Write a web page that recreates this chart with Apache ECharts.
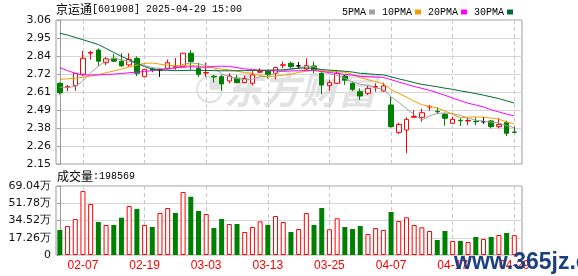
<!DOCTYPE html>
<html><head><meta charset="utf-8">
<script src="https://cdn.jsdelivr.net/npm/echarts@6/dist/echarts.min.js"></script>
<style>html,body{margin:0;padding:0;background:#fff}#c{width:578px;height:276px}</style>
</head><body><div id="c"></div>
<script>
const dates = ['01-27','02-05','02-06','02-07','02-10','02-11','02-12','02-13','02-14','02-17',
'02-18','02-19','02-20','02-21','02-24','02-25','02-26','02-27','02-28','03-03',
'03-04','03-05','03-06','03-07','03-10','03-11','03-12','03-13','03-14','03-17',
'03-18','03-19','03-20','03-21','03-24','03-25','03-26','03-27','03-28','03-31',
'04-01','04-02','04-03','04-07','04-08','04-09','04-10','04-11','04-14','04-15',
'04-16','04-17','04-18','04-21','04-22','04-23','04-24','04-25','04-28','04-29'];
const opens = [2.66,2.635,2.645,2.717,2.85,2.87,2.79,2.818,2.80,2.776,
2.818,2.702,2.75,2.744,2.755,2.76,2.765,2.85,2.755,2.725,
2.705,2.702,2.675,2.692,2.665,2.66,2.73,2.738,2.723,2.774,
2.786,2.77,2.75,2.77,2.723,2.645,2.66,2.706,2.66,2.607,
2.597,2.635,2.611,2.523,2.35,2.365,2.445,2.445,2.51,2.483,
2.464,2.407,2.426,2.422,2.42,2.417,2.422,2.386,2.411,2.352];
const closes = [2.60,2.64,2.723,2.818,2.855,2.80,2.815,2.80,2.77,2.812,
2.723,2.748,2.742,2.744,2.79,2.765,2.85,2.797,2.717,2.728,
2.70,2.656,2.706,2.664,2.69,2.713,2.735,2.717,2.759,2.777,
2.765,2.77,2.772,2.744,2.649,2.664,2.723,2.68,2.622,2.58,
2.628,2.64,2.643,2.386,2.40,2.432,2.45,2.474,2.513,2.48,
2.439,2.432,2.423,2.425,2.417,2.417,2.386,2.40,2.344,2.35];
const lows = [2.59,2.61,2.613,2.706,2.81,2.77,2.775,2.795,2.765,2.765,
2.705,2.70,2.73,2.70,2.748,2.745,2.765,2.745,2.70,2.70,
2.665,2.613,2.66,2.66,2.66,2.645,2.723,2.69,2.685,2.755,
2.755,2.75,2.744,2.723,2.59,2.613,2.656,2.65,2.61,2.555,
2.586,2.607,2.607,2.38,2.34,2.218,2.443,2.417,2.487,2.466,
2.392,2.403,2.39,2.395,2.395,2.404,2.375,2.375,2.327,2.348];
const highs = [2.665,2.65,2.725,2.864,2.865,2.88,2.825,2.845,2.85,2.85,
2.83,2.75,2.76,2.755,2.81,2.82,2.852,2.87,2.79,2.79,
2.713,2.713,2.723,2.713,2.71,2.74,2.755,2.745,2.765,2.797,
2.797,2.795,2.818,2.797,2.73,2.68,2.744,2.713,2.67,2.628,
2.643,2.66,2.664,2.575,2.41,2.445,2.49,2.50,2.523,2.508,
2.474,2.449,2.44,2.44,2.445,2.447,2.428,2.44,2.424,2.386];
const ma5 = [2.635,2.635,2.64,2.675,2.727,2.767,2.802,2.818,2.808,2.80,
2.784,2.773,2.759,2.754,2.749,2.757,2.779,2.789,2.784,2.771,
2.758,2.72,2.701,2.691,2.683,2.686,2.702,2.704,2.725,2.74,
2.747,2.758,2.768,2.766,2.74,2.719,2.71,2.692,2.668,2.654,
2.647,2.63,2.623,2.575,2.539,2.50,2.462,2.428,2.454,2.47,
2.472,2.468,2.457,2.44,2.427,2.421,2.414,2.409,2.393,2.379];
const ma10 = [2.685,2.688,2.692,2.698,2.705,2.715,2.727,2.738,2.75,2.763,
2.775,2.786,2.788,2.781,2.774,2.771,2.774,2.774,2.769,2.76,
2.758,2.749,2.745,2.737,2.727,2.722,2.71,2.702,2.706,2.711,
2.718,2.729,2.736,2.744,2.74,2.735,2.733,2.73,2.716,2.696,
2.683,2.67,2.657,2.621,2.596,2.573,2.546,2.525,2.514,2.504,
2.485,2.464,2.442,2.446,2.448,2.446,2.44,2.433,2.416,2.403];
const ma20 = [2.759,2.74,2.723,2.713,2.712,2.713,2.715,2.718,2.722,2.727,
2.73,2.735,2.74,2.746,2.752,2.757,2.762,2.764,2.763,2.762,
2.767,2.768,2.767,2.759,2.751,2.747,2.743,2.739,2.738,2.736,
2.738,2.739,2.741,2.741,2.734,2.729,2.722,2.716,2.712,2.704,
2.701,2.70,2.697,2.683,2.668,2.654,2.64,2.628,2.616,2.601,
2.584,2.567,2.55,2.534,2.523,2.51,2.493,2.479,2.465,2.454];
const ma30 = [2.976,2.965,2.95,2.935,2.92,2.905,2.88,2.855,2.83,2.808,
2.786,2.765,2.75,2.744,2.742,2.74,2.741,2.742,2.742,2.741,
2.74,2.739,2.739,2.739,2.74,2.741,2.742,2.743,2.744,2.745,
2.751,2.755,2.757,2.754,2.747,2.743,2.74,2.736,2.731,2.723,
2.72,2.716,2.713,2.701,2.688,2.677,2.664,2.653,2.646,2.638,
2.629,2.622,2.612,2.604,2.595,2.585,2.574,2.563,2.549,2.535];
const volumes = [250000,290000,360000,640000,510000,330000,300000,300000,373000,490000,
460000,300000,280000,420000,470000,420000,630000,583000,440000,410000,
270000,360000,310000,310000,230000,280000,337000,300000,390000,330000,
230000,260000,420000,300000,470000,257000,367000,280000,260000,290000,
210000,270000,250000,430000,340000,377000,300000,277000,240000,150000,
240000,140000,140000,130000,180000,160000,180000,200000,220000,198569];
const volUp = [0,1,1,1,1,0,1,0,0,1, 0,1,0,1,1,0,1,0,0,1, 0,0,1,0,1,1,1,0,1,1,
0,1,1,0,0,1,1,0,0,0, 1,1,1,0,1,1,1,1,1,0, 0,1,0,1,0,1,0,1,0,1];
const xTickLabels = ['02-07','02-19','03-03','03-13','03-25','04-07','04-17','04-29'];
const priceTickLabels = ['2.15','2.26','2.38','2.49','2.61','2.72','2.84','2.95','3.06'];
const volTickLabels = ['0','17.26万','34.52万','51.78万','69.04万'];
const seriesNames = ['5PMA','10PMA','20PMA','30PMA'];

const priceMin = 2.15, priceMax = 3.06;
const priceStep = (priceMax - priceMin) / (priceTickLabels.length - 1);
const priceTicks = priceTickLabels.map((_, k) => priceMin + k * priceStep);
const volMax = 690400, volStep = volMax / (volTickLabels.length - 1);
const xTicks = xTickLabels.map(d => dates.indexOf(d));

const RED = '#ff0000', GREEN = '#008000';
const maColors = ['#a0a0a0', '#f0a000', '#ff00ff', '#006c32'];
const gridColor = '#d6d6d6', frameColor = '#9a9a9a';

const chart = echarts.init(document.getElementById('c'), null, {renderer: 'canvas'});

function xAxisCfg(gi, showLabel) {
  return {
    type: 'value', gridIndex: gi, min: -0.5, max: dates.length,
    axisLine: {show: false},
    axisTick: {show: false, customValues: xTicks},
    axisLabel: {show: showLabel, customValues: xTicks, margin: 5, color: RED,
      fontFamily: 'Liberation Sans', fontSize: 12,
      formatter: v => dates[Math.round(v)] || ''},
    splitLine: {show: true, lineStyle: {color: '#c8c8c8', type: [4, 3], width: 1}}
  };
}

const wmFill = 'rgba(185,185,185,0.42)';
const option = {
  animation: false,
  backgroundColor: '#fff',
  legend: {
    data: seriesNames, left: 337, top: 2, align: 'right', icon: 'rect',
    itemWidth: 6, itemHeight: 5, itemGap: 7, selectedMode: false,
    textStyle: {fontFamily: 'Liberation Mono', fontSize: 10, color: '#000', padding: [0, -2, 0, 0]}
  },
  grid: [
    {left: 56, top: 20, width: 466, height: 144, show: true, borderColor: frameColor, borderWidth: 1, backgroundColor: 'transparent'},
    {left: 56, top: 186, width: 466, height: 69, show: true, borderColor: frameColor, borderWidth: 1, backgroundColor: 'transparent'}
  ],
  xAxis: [xAxisCfg(0, false), xAxisCfg(1, true)],
  yAxis: [
    {type: 'value', gridIndex: 0, min: priceMin, max: priceMax, scale: true,
     axisLine: {show: true, lineStyle: {color: frameColor}},
     axisTick: {show: true, length: 3, customValues: priceTicks, lineStyle: {color: frameColor}},
     axisLabel: {customValues: priceTicks, margin: 5, color: '#111', fontFamily: 'DejaVu Sans', fontSize: 11,
       formatter: v => priceTickLabels[Math.round((v - priceMin) / priceStep)]},
     splitLine: {show: true, lineStyle: {color: gridColor, width: 1}}},
    {type: 'value', gridIndex: 1, min: 0, max: volMax, interval: volStep,
     axisLine: {show: true, lineStyle: {color: frameColor}},
     axisTick: {show: true, length: 3, lineStyle: {color: frameColor}},
     axisLabel: {margin: 5, color: '#111', fontFamily: 'DejaVu Sans', fontSize: 11,
       formatter: v => volTickLabels[Math.round(v / volStep)]},
     splitLine: {show: true, lineStyle: {color: gridColor, width: 1}}}
  ],
  graphic: [
    {type: 'text', left: 224, top: 71, z: 0, silent: true,
     style: {text: '东方财富', fill: wmFill, font: 'italic bold 38px "Noto Sans CJK SC"'}},
    {type: 'text', left: 194, top: 72, z: 0, silent: true,
     style: {text: '◔', fill: wmFill, font: 'bold 36px "DejaVu Sans"'}},
    {type: 'text', left: 56, top: 3, silent: true,
     style: {text: '{a|京运通}{b|[601908] 2025-04-29 15:00}', rich: {
       a: {fontFamily: 'Noto Sans CJK SC', fontSize: 12, fill: '#000', lineHeight: 14},
       b: {fontFamily: 'Liberation Mono', fontSize: 10, fill: '#000', lineHeight: 14}}}},
    {type: 'text', left: 57, top: 170, silent: true,
     style: {text: '{a|成交量}{b|:' + volumes[volumes.length - 1] + '}', rich: {
       a: {fontFamily: 'Noto Sans CJK SC', fontSize: 12, fill: '#000', lineHeight: 14},
       b: {fontFamily: 'Liberation Mono', fontSize: 10, fill: '#000', lineHeight: 14}}}},
    {type: 'text', left: 454, top: 251, z: 100, silent: true,
     style: {text: 'www.365jz.com', fill: '#1c3f82', font: 'bold 23px "Liberation Sans"'}}
  ],
  series: [
    {type: 'candlestick', name: 'K', xAxisIndex: 0, yAxisIndex: 0, barWidth: 5, z: 3,
     data: dates.map((d, i) => [i, opens[i], closes[i], lows[i], highs[i]]),
     itemStyle: {color: '#ffffff', color0: GREEN, borderColor: RED, borderColor0: GREEN,
       borderColorDoji: '#000000', borderWidth: 1}},
    ...[ma5, ma10, ma20, ma30].map((arr, k) => ({
      type: 'line', name: seriesNames[k], xAxisIndex: 0, yAxisIndex: 0, z: 4,
      data: arr.map((v, i) => [i, v]), symbol: 'none', showSymbol: false, silent: true,
      color: maColors[k], lineStyle: {color: maColors[k], width: 1}
    })),
    {type: 'bar', name: 'VOL', xAxisIndex: 1, yAxisIndex: 1, barWidth: 5, z: 3,
     data: volumes.map((v, i) => ({value: [i, v],
       itemStyle: volUp[i] ? {color: '#ffffff', borderColor: RED, borderWidth: 1} : {color: GREEN}}))}
  ]
};
chart.setOption(option);
</script>
</body></html>
